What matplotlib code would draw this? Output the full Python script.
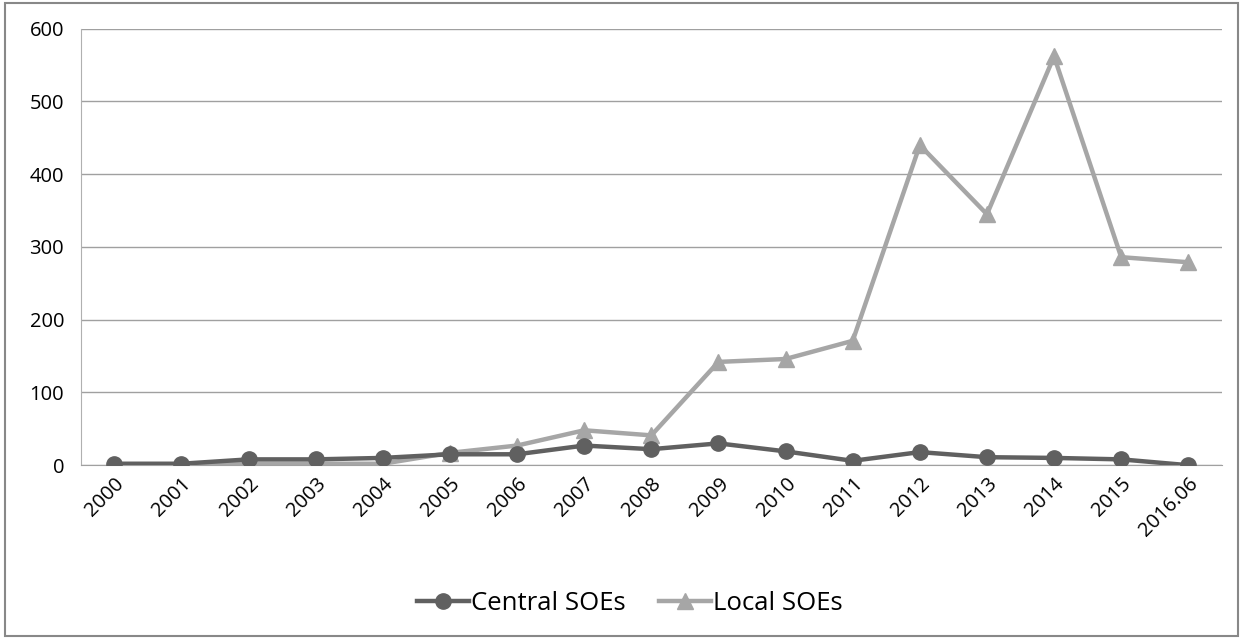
import matplotlib
matplotlib.use("Agg")
import matplotlib.pyplot as plt

categories = ["2000", "2001", "2002", "2003", "2004", "2005", "2006", "2007", "2008",
              "2009", "2010", "2011", "2012", "2013", "2014", "2015", "2016.06"]
central = [2, 2, 8, 8, 10, 15, 15, 27, 22, 30, 19, 6, 18, 11, 10, 8, 0]
local = [0, 0, 2, 2, 2, 17, 27, 48, 41, 142, 146, 171, 440, 345, 562, 286, 279]
yticks = [0, 100, 200, 300, 400, 500, 600]

plt.rcParams['font.family'] = ['Open Sans', 'DejaVu Sans']

fig = plt.figure(figsize=(12.43, 6.39), dpi=100)
ax = fig.add_axes([0.065, 0.272, 0.918, 0.683])

x = list(range(len(categories)))
ax.plot(x, central, color="#606060", lw=3.2, marker="o", ms=11, label="Central SOEs", zorder=3)
ax.plot(x, local, color="#a6a6a6", lw=3.2, marker="^", ms=12, label="Local SOEs", zorder=2)

ax.set_xlim(-0.5, len(categories) - 0.5)
ax.set_ylim(0, 600)
ax.set_yticks(yticks)
ax.set_yticklabels([str(v) for v in yticks], fontsize=14.5)
ax.set_xticks(x)
ax.set_xticklabels(categories, rotation=45, ha="right", rotation_mode="anchor", fontsize=14.5)
ax.tick_params(axis="y", length=0, pad=12)
ax.tick_params(axis="x", length=0, pad=6)
ax.grid(axis="y", color="#a0a0a0", lw=1)
ax.set_axisbelow(True)
for s in ["top", "right"]:
    ax.spines[s].set_visible(False)
ax.spines["left"].set_color("#b0b0b0")
ax.spines["bottom"].set_color("#a0a0a0")

fig.legend(loc="center", bbox_to_anchor=(0.507, 0.056), ncol=2, frameon=False,
           fontsize=18.5, handlelength=2.0, columnspacing=1.3, handletextpad=0.1)

border = plt.Rectangle((0.004, 0.004), 0.992, 0.992, transform=fig.transFigure,
                       fill=False, edgecolor="#888888", lw=1.5)
fig.patches.append(border)

fig.savefig("out.png", dpi=100)
